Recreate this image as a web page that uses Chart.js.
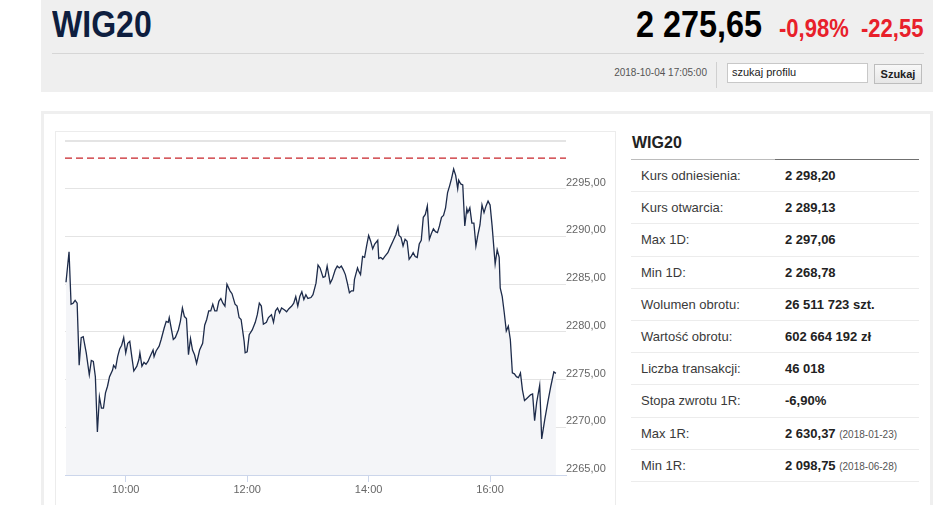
<!DOCTYPE html>
<html lang="pl">
<head>
<meta charset="utf-8">
<title>WIG20</title>
<script src="https://cdn.jsdelivr.net/npm/chart.js@4.4.1/dist/chart.umd.min.js"></script>
<style>
    html, body { margin: 0; padding: 0; background: #fff; }
    body { width: 945px; height: 505px; overflow: hidden; position: relative;
           font-family: "Liberation Sans", Arial, sans-serif; }
    .abs { position: absolute; }
    #head { left: 41px; top: 0; width: 892px; height: 92px; background: #efefef; }
    .narrow { font-family: "Liberation Sans", Arial, sans-serif; font-weight: bold;
              white-space: nowrap; line-height: 1; transform-origin: 0 0; }
    #name { left: 52px; top: 7px; font-size: 36px; color: #0e1e3f; transform: scaleX(0.89); }
    #price { left: 636px; top: 7px; font-size: 36px; color: #000; transform: scaleX(0.9); }
    .chg { top: 16px; font-size: 25px; color: #e8202a; transform: scaleX(0.88); }
    #hr { left: 52px; top: 53px; width: 872px; height: 1px; background: #d6d6d6; }
    #stamp { right: 238px; top: 67px; font-size: 10px; color: #555; white-space: nowrap; }
    #vsep { left: 716px; top: 62px; width: 1px; height: 26px; background: #d0d0d0; }
    #search { left: 727px; top: 63px; width: 141px; height: 20px; background: #fff;
              border: 1px solid #c8c8c8; font-size: 11px; color: #222; line-height: 16px;
              padding-left: 4px; box-sizing: border-box; }
    #btn { left: 874px; top: 64px; width: 48px; height: 20px; box-sizing: border-box;
           border: 1px solid #bdbdbd; background: linear-gradient(#f8f8f8, #e6e6e6);
           font-size: 11px; font-weight: bold; color: #222; text-align: center; line-height: 18px; }
    #panel { left: 41px; top: 111px; width: 892px; height: 420px; box-sizing: border-box;
             border: 3px solid #efefef; }
    #chartBox { left: 55px; top: 131px; width: 561px; height: 400px; box-sizing: border-box;
                border: 1px solid #ececec; }
    #chartWrap { left: 56px; top: 132px; width: 560px; height: 373px; }
    #stats { left: 631px; top: 128px; width: 288px; }
    #stats .title { height: 31px; position: relative; }
    #stats .title span { position: absolute; left: 1px; top: 6px; font-size: 16px; font-weight: bold; color: #222; }
    #stats .uline { display: flex; height: 1px; }
    #stats .uline div:first-child { width: 144px; background: #bcbcbc; }
    #stats .uline div:last-child { width: 144px; background: #707070; }
    .row { height: 32.2px; box-sizing: border-box; border-bottom: 1px solid #ececec;
           display: flex; align-items: center; font-size: 13px; }
    .row .lab { width: 154px; padding-left: 10px; box-sizing: border-box; color: #3a3a3a; }
    .row .val { font-weight: bold; color: #222; }
    .row .note { font-weight: normal; font-size: 10px; color: #555; }
</style>
</head>
<body>
<div id="head" class="abs"></div>
<div id="name" class="abs narrow">WIG20</div>
<div id="price" class="abs narrow">2 275,65</div>
<div class="abs narrow chg" style="left:779px">-0,98%</div>
<div class="abs narrow chg" style="left:861px">-22,55</div>
<div id="hr" class="abs"></div>
<div id="stamp" class="abs">2018-10-04 17:05:00</div>
<div id="vsep" class="abs"></div>
<div id="search" class="abs">szukaj profilu</div>
<div id="btn" class="abs">Szukaj</div>

<div id="panel" class="abs"></div>
<div id="chartBox" class="abs"></div>
<div id="chartWrap" class="abs"><canvas id="wig-chart"></canvas></div>
<div id="stats" class="abs"></div>

<script>
// WIG20 intraday, 2018-10-04 — Chart.js line + reference price

// minutes after the 9:00 session open
const minutes = [
    1, 4, 6, 8, 10, 12, 14, 16, 18, 21, 24, 26, 28, 30, 32, 34, 36, 38, 40, 42,
    44, 47, 48, 50, 52, 54, 56, 58, 60, 62, 64, 66, 68, 71, 73, 74, 76, 78, 80, 82,
    84, 87, 88, 90, 93, 95, 98, 100, 102, 103, 107, 109, 112, 114, 116, 118, 120, 122, 124, 126,
    128, 130, 133, 136, 138, 140, 142, 144, 146, 148, 150, 152, 154, 156, 158, 160, 163, 165, 168, 170,
    172, 174, 177, 178, 180, 182, 185, 188, 190, 192, 194, 196, 199, 201, 204, 206, 208, 210, 212, 214,
    217, 219, 221, 224, 226, 228, 230, 232, 234, 236, 238, 240, 243, 245, 248, 250, 252, 255, 257, 259,
    262, 264, 267, 269, 271, 273, 275, 277, 279, 281, 283, 285, 286, 289, 290, 292, 294, 296, 298, 300,
    302, 304, 306, 309, 310, 312, 314, 316, 319, 321, 324, 327, 329, 330, 332, 334, 336, 338, 340, 342,
    344, 346, 348, 350, 352, 354, 356, 358, 360, 362, 364, 366, 368, 370, 372, 374, 376, 378, 380, 382,
    384, 386, 388, 389, 391, 393, 395, 397, 398, 400, 402, 404, 406, 408, 410, 412, 414, 416, 418, 420,
    422, 425, 427, 429, 430, 432, 434, 436, 438, 440, 442, 444, 446, 448, 450, 452, 454, 456, 458, 460,
    462, 464, 466, 469, 471, 474, 477, 480, 483, 485
];

const prices = [
    2285.2, 2288.4, 2282.9, 2283.0, 2283.3, 2283.0, 2276.5, 2279.4, 2279.5, 2277.8,
    2275.5, 2277.0, 2276.9, 2275.3, 2269.5, 2273.2, 2272.0, 2272.0, 2273.6, 2274.3,
    2275.3, 2276.0, 2276.5, 2276.2, 2277.4, 2278.2, 2278.6, 2279.4, 2277.8, 2278.8,
    2279.0, 2277.4, 2275.9, 2276.4, 2277.1, 2277.8, 2276.4, 2276.8, 2276.6, 2276.9,
    2277.4, 2278.1, 2277.4, 2278.0, 2278.5, 2279.2, 2280.4, 2281.1, 2281.0, 2281.5,
    2279.2, 2279.4, 2280.2, 2281.1, 2282.5, 2281.6, 2281.4, 2277.6, 2279.3, 2278.1,
    2277.6, 2276.7, 2278.1, 2278.8, 2280.7, 2281.3, 2282.2, 2282.2, 2282.9, 2282.2,
    2282.2, 2283.2, 2283.5, 2283.0, 2282.7, 2285.0, 2284.3, 2284.0, 2282.9, 2282.7,
    2281.5, 2281.3, 2279.0, 2277.8, 2277.9, 2279.7, 2280.2, 2281.0, 2281.8, 2283.0,
    2282.7, 2280.8, 2281.0, 2281.5, 2281.8, 2281.0, 2282.2, 2282.5, 2282.0, 2282.5,
    2282.3, 2282.1, 2282.4, 2282.7, 2283.0, 2283.7, 2282.7, 2283.7, 2284.2, 2283.4,
    2283.9, 2283.5, 2283.6, 2283.9, 2285.1, 2287.0, 2286.7, 2285.7, 2285.8, 2286.9,
    2285.1, 2285.5, 2286.5, 2286.9, 2286.7, 2286.9, 2286.5, 2286.0, 2285.1, 2284.1,
    2284.3, 2284.3, 2285.5, 2286.7, 2286.4, 2286.0, 2287.9, 2287.8, 2289.0, 2290.1,
    2289.5, 2288.7, 2289.2, 2289.6, 2287.7, 2287.8, 2287.6, 2287.9, 2288.3, 2288.8,
    2289.5, 2290.2, 2291.0, 2290.1, 2289.9, 2289.0, 2289.7, 2289.5, 2287.6, 2287.9,
    2288.3, 2287.9, 2287.8, 2289.2, 2289.6, 2292.0, 2292.3, 2293.2, 2289.7, 2290.3,
    2290.8, 2290.5, 2290.4, 2291.1, 2292.0, 2292.2, 2293.0, 2294.6, 2295.3, 2296.1,
    2297.06, 2296.4, 2295.0, 2295.9, 2295.5, 2295.4, 2291.1, 2292.9, 2292.5, 2293.0,
    2291.4, 2291.4, 2289.0, 2290.2, 2291.2, 2293.3, 2292.5, 2293.2, 2293.7, 2293.3,
    2291.1, 2287.1, 2288.6, 2287.8, 2284.6, 2283.7, 2282.0, 2280.1, 2280.6, 2279.2,
    2275.7, 2275.6, 2275.3, 2275.2, 2275.7, 2273.9, 2272.8, 2273.0, 2273.2, 2273.4,
    2273.5, 2270.7, 2272.6, 2274.4, 2268.78, 2270.8, 2272.6, 2274.3, 2275.8, 2275.65
];

const refPrice = 2298.20;          // Kurs odniesienia
const sessionOpen = '9:00';
const xRange = [0, 495];           // 9:00 .. 17:15
const yRange = [2265, 2300];
const xTickLabels = ['10:00', '12:00', '14:00', '16:00'];
const yTickLabels = ['2265,00', '2270,00', '2275,00', '2280,00', '2285,00', '2290,00', '2295,00'];

const statLabels = ['Kurs odniesienia:', 'Kurs otwarcia:', 'Max 1D:', 'Min 1D:', 'Wolumen obrotu:',
    'Wartość obrotu:', 'Liczba transakcji:', 'Stopa zwrotu 1R:', 'Max 1R:', 'Min 1R:'];
const statValues = ['2 298,20', '2 289,13', '2 297,06', '2 268,78', '26 511 723 szt.',
    '602 664 192 zł', '46 018', '-6,90%', '2 630,37', '2 098,75'];
const statNotes = ['', '', '', '', '', '', '', '', '(2018-01-23)', '(2018-06-28)'];

const COLORS = {
    line: '#1d2b4a',
    fill: '#f4f5f8',
    ref: '#c8242a',
    grid: '#e4e4e4',
    axis: '#ccd6eb',
    label: '#666666',
};

// ── helpers ───────────────────────────────────────────────────────────

function toMinutes(s) {
    const [h, m] = s.split(':').map(Number);
    return h * 60 + m;
}

function clockToOffset(s) {
    return toMinutes(s) - toMinutes(sessionOpen);
}

function offsetToClock(v) {
    const t = v + toMinutes(sessionOpen);
    const h = Math.floor(t / 60), m = Math.round(t % 60);
    return `${h}:${String(m).padStart(2, '0')}`;
}

function plFormat(v) {
    return v.toFixed(2).replace('.', ',');
}

// ── stats table ───────────────────────────────────────────────────────

function buildStats() {
    const box = document.getElementById('stats');
    let html = '<div class="title"><span>WIG20</span></div><div class="uline"><div></div><div></div></div>';
    statLabels.forEach((lab, i) => {
        const note = statNotes[i] ? ` <span class="note">${statNotes[i]}</span>` : '';
        html += `<div class="row"><div class="lab">${lab}</div><div class="val">${statValues[i]}${note}</div></div>`;
    });
    box.innerHTML = html;
}

// ── chart ─────────────────────────────────────────────────────────────

function initChart() {
    const ctx = document.getElementById('wig-chart').getContext('2d');
    const series = minutes.map((m, i) => ({ x: m, y: prices[i] }));
    const refLine = xRange.map(x => ({ x, y: refPrice }));

    new Chart(ctx, {
        type: 'line',
        data: {
            datasets: [{
                data: refLine,
                borderColor: COLORS.ref,
                borderWidth: 1.2,
                borderDash: [7, 4],
                pointRadius: 0,
                fill: false,
            }, {
                data: series,
                borderColor: COLORS.line,
                borderWidth: 1.3,
                backgroundColor: COLORS.fill,
                pointRadius: 0,
                tension: 0,
                fill: 'start',
            }]
        },
        options: {
            responsive: true,
            maintainAspectRatio: false,
            animation: false,
            layout: { padding: { left: 9, top: 9, right: 0, bottom: 0 } },
            plugins: { legend: { display: false }, tooltip: { enabled: false } },
            scales: {
                x: {
                    type: 'linear',
                    min: xRange[0],
                    max: xRange[1],
                    afterBuildTicks: (scale) => {
                        scale.ticks = xTickLabels.map(l => ({ value: clockToOffset(l) }));
                    },
                    afterFit: (scale) => { scale.height = 30; },
                    ticks: {
                        color: COLORS.label,
                        font: { family: 'Liberation Sans, Arial', size: 11 },
                        padding: 1,
                        maxRotation: 0,
                        callback: (v) => offsetToClock(v),
                    },
                    grid: { drawOnChartArea: false, color: COLORS.axis, tickLength: 7 },
                    border: { color: COLORS.axis },
                },
                y: {
                    position: 'right',
                    min: yRange[0],
                    max: yRange[1],
                    afterBuildTicks: (scale) => {
                        const vals = yTickLabels.map(l => parseFloat(l.replace(',', '.')));
                        scale.ticks = vals.concat([yRange[1]]).map(v => ({ value: v }));
                    },
                    afterFit: (scale) => { scale.width = 50; },
                    ticks: {
                        color: COLORS.label,
                        font: { family: 'Liberation Sans, Arial', size: 11 },
                        padding: 0,
                        labelOffset: -6,
                        callback: (v) => (v >= yRange[1] ? '' : plFormat(v)),
                    },
                    grid: {
                        color: COLORS.grid,
                        drawTicks: false,
                        lineWidth: (c) => (c.tick && c.tick.value >= yRange[1] ? 2 : 1),
                    },
                    border: { display: false },
                }
            }
        }
    });
}

document.addEventListener('DOMContentLoaded', () => {
    buildStats();
    initChart();
});
</script>
</body>
</html>
